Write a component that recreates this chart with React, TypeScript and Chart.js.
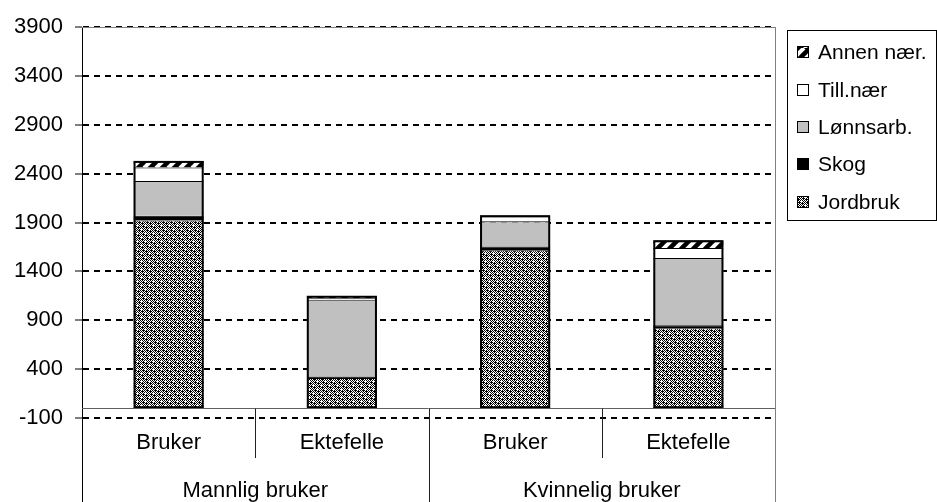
import React, { useEffect, useRef } from "react";
import { Chart, registerables } from "chart.js";
Chart.register(...registerables);

const subCategories = ["Bruker", "Ektefelle", "Bruker", "Ektefelle"];
const groups = ["Mannlig bruker", "Kvinnelig bruker"];
const jordbruk = [1920, 310, 1615, 818];
const skog = [50, 15, 40, 30];
const lonnsarb = [355, 780, 258, 690];
const tillNaer = [137, 20, 60, 100];
const annenNaer = [68, 25, 0, 80];
const yMin = -100;
const yMax = 3900;
const yStep = 500;

const FONT = "'Liberation Sans', Arial, sans-serif";

function makeDither(): CanvasPattern | string {
  const c = document.createElement("canvas");
  c.width = 8;
  c.height = 8;
  const g = c.getContext("2d");
  if (!g) return "#555";
  g.fillStyle = "#fff";
  g.fillRect(0, 0, 8, 8);
  g.fillStyle = "#000";
  for (let y = 0; y < 8; y++) {
    for (let x = 0; x < 8; x++) {
      if ((x + y) % 2 === 0) g.fillRect(x, y, 1, 1);
    }
  }
  g.fillRect(2, 3, 1, 1);
  g.fillRect(6, 7, 1, 1);
  g.fillRect(3, 6, 1, 1);
  g.fillRect(7, 2, 1, 1);
  g.fillStyle = "#fff";
  g.fillRect(1, 1, 1, 1);
  g.fillRect(5, 5, 1, 1);
  const p = g.createPattern(c, "repeat");
  return p || "#555";
}

function makeStripes(): CanvasPattern | string {
  const s = 12;
  const c = document.createElement("canvas");
  c.width = s;
  c.height = s;
  const g = c.getContext("2d");
  if (!g) return "#444";
  g.fillStyle = "#000";
  g.fillRect(0, 0, s, s);
  g.strokeStyle = "#fff";
  g.lineWidth = 4;
  for (let k = -1; k <= 1; k++) {
    g.beginPath();
    g.moveTo(k * s, s);
    g.lineTo(k * s + s, 0);
    g.stroke();
  }
  const p = g.createPattern(c, "repeat");
  return p || "#444";
}

export default function App() {
  const ref = useRef<HTMLCanvasElement | null>(null);

  useEffect(() => {
    document.body.style.margin = "0";
    const canvas = ref.current;
    if (!canvas) return;
    const dither = makeDither();
    const stripes = makeStripes();

    const series = [
      { label: "Jordbruk", data: jordbruk, bg: dither },
      { label: "Skog", data: skog, bg: "#000000" },
      { label: "Lønnsarb.", data: lonnsarb, bg: "#c0c0c0" },
      { label: "Till.nær", data: tillNaer, bg: "#ffffff" },
      { label: "Annen nær.", data: annenNaer, bg: stripes },
    ];

    const customPlugin = {
      id: "custom",
      beforeDraw(chart: any) {
        const ctx = chart.ctx;
        ctx.save();
        ctx.fillStyle = "#fff";
        ctx.fillRect(0, 0, chart.width, chart.height);
        ctx.restore();
      },
      beforeDatasetsDraw(chart: any) {
        const ctx = chart.ctx;
        const a = chart.chartArea;
        ctx.save();
        ctx.strokeStyle = "#808080";
        ctx.lineWidth = 1;
        ctx.beginPath();
        ctx.moveTo(a.left, a.top + 0.5);
        ctx.lineTo(a.right + 0.5, a.top + 0.5);
        ctx.stroke();
        ctx.restore();
      },
      afterDatasetsDraw(chart: any) {
        const ctx = chart.ctx;
        const n = subCategories.length;
        ctx.save();
        ctx.strokeStyle = "#000";
        ctx.lineWidth = 2;
        for (let i = 0; i < n; i++) {
          let top = Infinity;
          let bottom = -Infinity;
          let left = 0;
          let right = 0;
          chart.data.datasets.forEach((_d: any, di: number) => {
            const el = chart.getDatasetMeta(di).data[i];
            if (!el) return;
            const p = el.getProps(["x", "y", "base", "width"], true);
            top = Math.min(top, p.y, p.base);
            bottom = Math.max(bottom, p.y, p.base);
            left = p.x - p.width / 2;
            right = p.x + p.width / 2;
          });
          if (isFinite(top)) {
            ctx.strokeRect(left + 1, top + 1, right - left - 2, bottom - top - 2);
          }
        }
        ctx.restore();
      },
      afterDraw(chart: any) {
        const ctx = chart.ctx;
        const a = chart.chartArea;
        const xs = chart.scales.x;
        const ys = chart.scales.y;
        const y0 = Math.round(ys.getPixelForValue(0)) + 0.5;
        const n = subCategories.length;
        const catW = (xs.right - xs.left) / n;
        const H = chart.height;
        ctx.save();
        ctx.strokeStyle = "#606060";
        ctx.lineWidth = 1;
        ctx.beginPath();
        ctx.moveTo(a.left, y0);
        ctx.lineTo(a.right, y0);
        ctx.stroke();
        ctx.strokeStyle = "#808080";
        ctx.beginPath();
        ctx.moveTo(Math.round(a.right) + 0.5, a.top);
        ctx.lineTo(Math.round(a.right) + 0.5, H);
        ctx.stroke();
        ctx.strokeStyle = "#000";
        ctx.beginPath();
        ctx.moveTo(Math.round(a.left) + 0.5, a.bottom);
        ctx.lineTo(Math.round(a.left) + 0.5, H);
        ctx.stroke();
        ctx.strokeStyle = "#202020";
        for (let i = 1; i < n; i++) {
          const x = Math.round(xs.left + i * catW) + 0.5;
          const isGroup = i % 2 === 0;
          ctx.beginPath();
          ctx.moveTo(x, y0);
          ctx.lineTo(x, isGroup ? H : 458);
          ctx.stroke();
        }
        ctx.fillStyle = "#000";
        ctx.font = "22px " + FONT;
        ctx.textAlign = "center";
        ctx.textBaseline = "middle";
        for (let i = 0; i < n; i++) {
          ctx.fillText(subCategories[i], xs.getPixelForValue(i), 443);
        }
        for (let g = 0; g < groups.length; g++) {
          const cx = xs.left + (g * 2 + 1) * catW;
          ctx.fillText(groups[g], cx, 491);
        }
        ctx.strokeStyle = "#000";
        ctx.lineWidth = 1;
        ctx.strokeRect(787.5, 30.5, 149, 190);
        ctx.font = "21px " + FONT;
        ctx.textAlign = "left";
        const rows = [52, 90, 127, 164, 202];
        const ordered = series.slice().reverse();
        ordered.forEach((s, i) => {
          const cy = rows[i];
          ctx.fillStyle = s.bg as any;
          ctx.fillRect(797, cy - 6, 12, 12);
          ctx.strokeStyle = "#000";
          ctx.strokeRect(797.5, cy - 5.5, 11, 11);
          ctx.fillStyle = "#000";
          ctx.fillText(s.label, 818, cy + 1);
        });
        ctx.restore();
      },
    };

    const chart = new Chart(canvas, {
      type: "bar",
      data: {
        labels: subCategories,
        datasets: series.map((s) => ({
          label: s.label,
          data: s.data,
          backgroundColor: s.bg as any,
          borderColor: "#000",
          borderWidth: { top: 1, bottom: 0, left: 0, right: 0 },
          borderSkipped: false,
          categoryPercentage: 1,
          barPercentage: 0.405,
        })),
      },
      options: {
        responsive: false,
        animation: false,
        events: [],
        layout: { padding: { top: 27, right: 162, bottom: 84, left: 0 } },
        plugins: {
          legend: { display: false },
          tooltip: { enabled: false },
          title: { display: false },
        },
        scales: {
          x: {
            display: false,
            stacked: true,
          },
          y: {
            stacked: true,
            min: yMin,
            max: yMax,
            afterFit(scale: any) {
              scale.width = 82;
            },
            ticks: {
              stepSize: yStep,
              color: "#000",
              padding: 12,
              font: { family: FONT, size: 22 },
              callback: (v: any) => String(v),
            },
            grid: {
              color: "#000",
              lineWidth: 2,
              drawTicks: true,
              tickLength: 7,
              tickColor: "#000",
              tickWidth: 1,
              tickBorderDash: [],
            } as any,
            border: { display: true, color: "#000", width: 1, dash: [6, 5] },
          },
        },
      },
      plugins: [customPlugin],
    });
    return () => chart.destroy();
  }, []);

  return (
    <div style={{ width: 937, height: 502 }}>
      <canvas ref={ref} width={937} height={502} style={{ display: "block" }} />
    </div>
  );
}
